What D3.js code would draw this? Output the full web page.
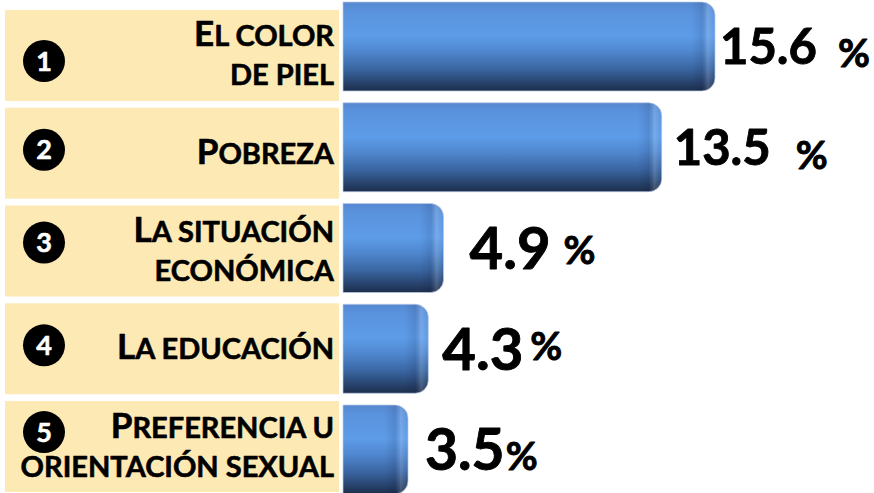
<!DOCTYPE html>
<html>
<head>
<meta charset="utf-8">
<script src="https://cdn.jsdelivr.net/npm/d3@7"></script>
<style>
  html, body { margin: 0; padding: 0; background: #ffffff; }
  svg { display: block; font-family: Lato, "Open Sans", sans-serif; }
</style>
</head>
<body>
<div id="chart"></div>
<script>
// ---- data ----
const ranks = ["1", "2", "3", "4", "5"];
const categories = [
  "El color\nde piel",
  "Pobreza",
  "La situación\neconómica",
  "La educación",
  "Preferencia u\norientación sexual"
];
const values = [15.6, 13.5, 4.9, 4.3, 3.5];
const valueLabels = ["15.6", "13.5", "4.9", "4.3", "3.5"];
const unit = "%";

// ---- layout / style (not data) ----
const W = 874, H = 493;
const valueDx = [5, 12, 26, 14, 17];        // gap bar end -> number
const valueSize = [49, 49, 58, 58, 57];
const pctDx = [21, 25, 13, 7, 1];
const pctDy = [3, 4, -5, -10, 0];
const circleDy = [51, 42, 37, 42, 31];

const svg = d3.select("#chart").append("svg")
  .attr("width", W).attr("height", H);

const defs = svg.append("defs");
const g1 = defs.append("linearGradient").attr("id", "barGrad")
  .attr("x1", 0).attr("y1", 0).attr("x2", 0).attr("y2", 1);
[["0%", "#5689d0"], ["12%", "#5a93de"], ["38%", "#5d9ce8"], ["55%", "#5088d0"],
 ["75%", "#3a66a2"], ["90%", "#28446e"], ["100%", "#1d2e4c"]]
  .forEach(([o, c]) => g1.append("stop").attr("offset", o).attr("stop-color", c));

const g2 = defs.append("linearGradient").attr("id", "edgeGrad")
  .attr("x1", 0).attr("y1", 0).attr("x2", 1).attr("y2", 0);
[["0%", "#000020", 0], ["45%", "#000020", 0.10], ["70%", "#ffffff", 0.16], ["100%", "#ffffff", 0]]
  .forEach(([o, c, a]) => g2.append("stop").attr("offset", o).attr("stop-color", c).attr("stop-opacity", a));

// scales
const x = d3.scaleLinear().domain([0, d3.max(values)]).range([319.2, 715]);
const yBar = d3.scaleBand().domain(d3.range(values.length)).range([2, 494]).paddingInner(0.117).paddingOuter(0);
const yPanel = d3.scaleBand().domain(d3.range(values.length)).range([10, 492]).paddingInner(0.07).paddingOuter(0);

const barLeft = 343, r = 13;
function barPath(L, R, t, h) {
  return `M${L},${t}H${R - r}A${r},${r} 0 0 1 ${R},${t + r}V${t + h - r}A${r},${r} 0 0 1 ${R - r},${t + h}H${L}Z`;
}

// bars
const bars = svg.append("g");
values.forEach((v, i) => {
  const R = x(v), t = yBar(i), h = yBar.bandwidth();
  const cp = defs.append("clipPath").attr("id", "clip" + i);
  cp.append("path").attr("d", barPath(barLeft, R, t, h));
  bars.append("path").attr("d", barPath(barLeft, R, t, h))
    .attr("fill", "url(#barGrad)");
  bars.append("rect").attr("x", R - 24).attr("y", t).attr("width", 24).attr("height", h)
    .attr("fill", "url(#edgeGrad)").attr("clip-path", `url(#clip${i})`);
  bars.append("path").attr("d", barPath(barLeft, R, t, h))
    .attr("fill", "none").attr("stroke", "#b9cbe8").attr("stroke-opacity", 0.7).attr("stroke-width", 1);
});

// value labels
const vl = svg.append("g");
values.forEach((v, i) => {
  const t = yBar(i) + yBar.bandwidth() / 2;
  const txt = vl.append("text")
    .attr("x", x(v) + valueDx[i])
    .attr("y", t + valueSize[i] * 0.36)
    .attr("font-weight", 700).attr("fill", "#000")
    .attr("stroke", "#000").attr("stroke-width", 0.9).attr("stroke-linejoin", "round");
  txt.append("tspan").attr("font-size", valueSize[i]).text(valueLabels[i]);
  txt.append("tspan").attr("font-size", 39).attr("dx", pctDx[i]).attr("dy", pctDy[i]).text(unit);
});

// label panels
const panels = svg.append("g");
categories.forEach((c, i) => {
  const top = yPanel(i), h = yPanel.bandwidth();
  panels.append("rect").attr("x", 5).attr("y", top).attr("width", 334).attr("height", h)
    .attr("fill", "#fde9b3");
  // rank circle
  const cy = top + circleDy[i];
  panels.append("circle").attr("cx", 44).attr("cy", cy).attr("r", 21).attr("fill", "#000");
  panels.append("text").attr("x", 44).attr("y", cy + 9.5)
    .attr("text-anchor", "middle").attr("font-size", 27).attr("font-weight", 700)
    .attr("fill", "#fff").attr("stroke", "#fff").attr("stroke-width", 0.6).text(ranks[i]);
  // category label in small caps
  const lines = c.split("\n");
  const cMid = top + h / 2;
  lines.forEach((ln, j) => {
    const base = cMid + 10.5 - (lines.length - 1) * 19.5 + j * 39;
    const t = panels.append("text").attr("x", 334).attr("y", base)
      .attr("text-anchor", "end").attr("font-weight", 700).attr("fill", "#000")
      .attr("stroke", "#000").attr("stroke-width", 0.6).attr("stroke-linejoin", "round");
    if (j === 0) {
      t.append("tspan").attr("font-size", 35).text(ln[0].toUpperCase());
      t.append("tspan").attr("font-size", 29).text(ln.slice(1).toUpperCase());
    } else {
      t.append("tspan").attr("font-size", 29).text(ln.toUpperCase());
    }
  });
});
</script>
</body>
</html>
